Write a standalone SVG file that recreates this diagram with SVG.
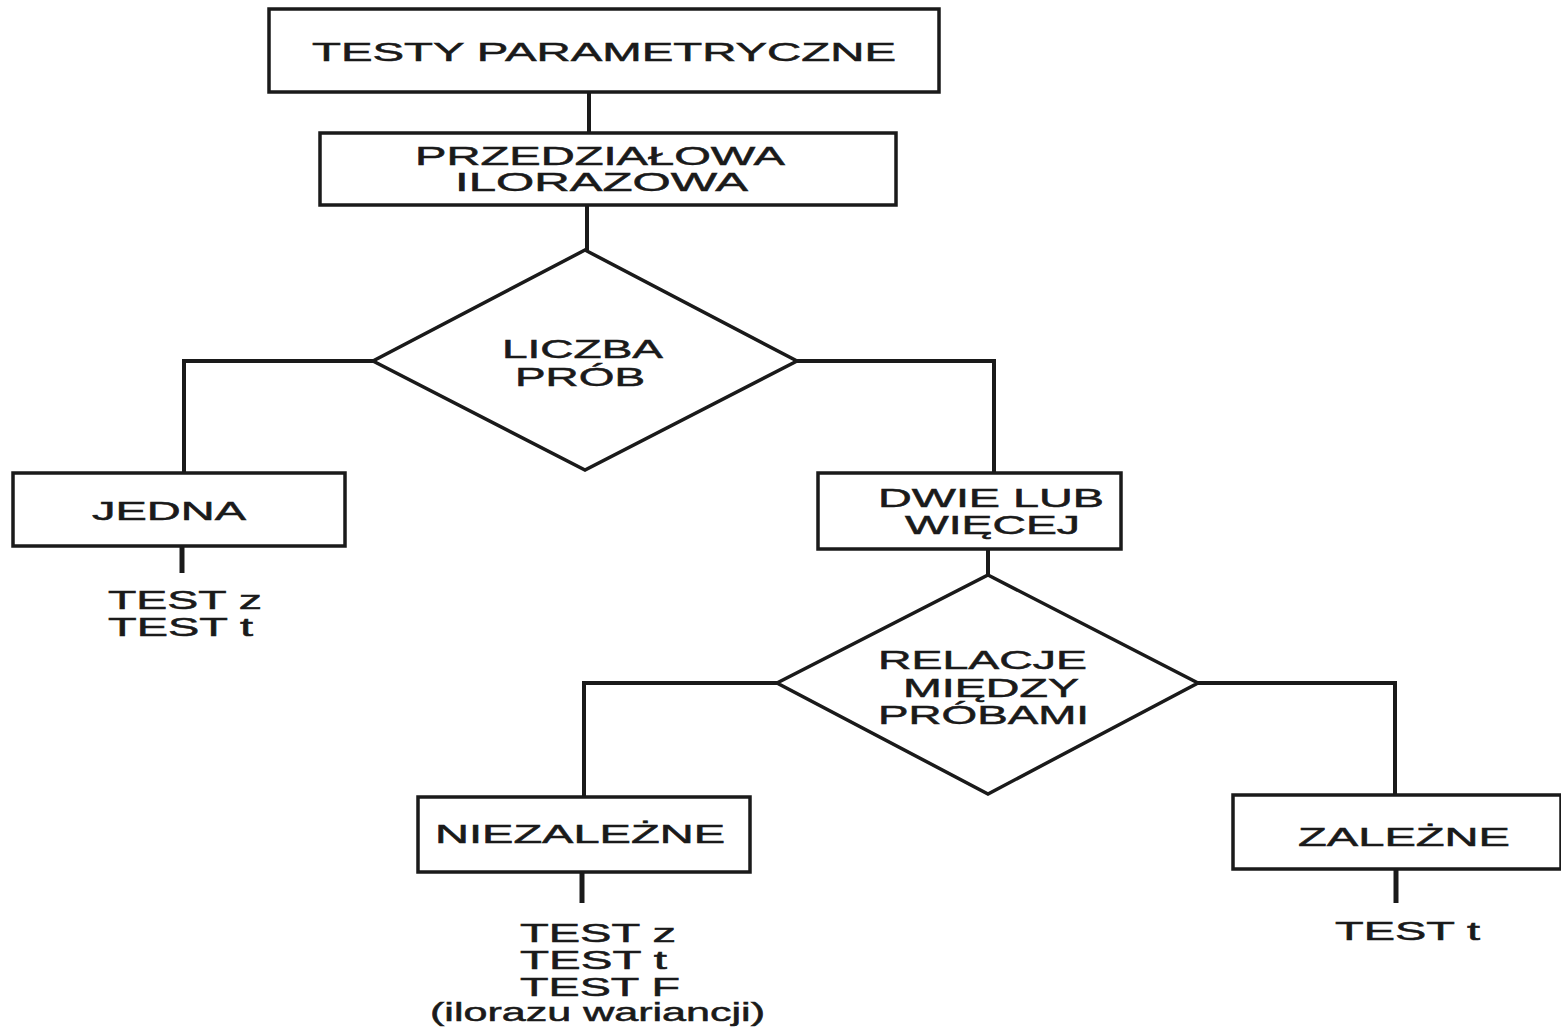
<svg xmlns="http://www.w3.org/2000/svg" width="1561" height="1031" viewBox="0 0 1561 1031">
<style>
.box{fill:#fff;stroke:#1a1a1a;stroke-width:3.5}
.ln{fill:none;stroke:#1a1a1a;stroke-width:4}
.stub{fill:none;stroke:#1a1a1a;stroke-width:5}
text{font-family:"Liberation Sans",Arial,sans-serif;font-size:25px;fill:#1a1a1a;stroke:#1a1a1a;stroke-width:0.5}
</style>
<rect width="1561" height="1031" fill="#fff"/>
<g id="connectors">
<line class="ln" x1="589" y1="92" x2="589" y2="133"/>
<line class="ln" x1="587" y1="205" x2="587" y2="250"/>
<polyline class="ln" points="373,361 184,361 184,473"/>
<polyline class="ln" points="797,361 994,361 994,473"/>
<line class="stub" x1="182" y1="546" x2="182" y2="573"/>
<line class="ln" x1="988" y1="549" x2="988" y2="575"/>
<polyline class="ln" points="777,683 584,683 584,797"/>
<polyline class="ln" points="1198,683 1395,683 1395,795"/>
<line class="stub" x1="582" y1="872" x2="582" y2="903"/>
<line class="stub" x1="1396" y1="869" x2="1396" y2="903"/>
</g>
<g id="n-testy">
<rect class="box" x="269" y="9" width="670" height="83"/>
<text x="312" y="61" textLength="584" lengthAdjust="spacingAndGlyphs">TESTY PARAMETRYCZNE</text>
</g>
<g id="n-przedzialowa">
<rect class="box" x="320" y="133" width="576" height="72"/>
<text x="415" y="165" textLength="370" lengthAdjust="spacingAndGlyphs">PRZEDZIAŁOWA</text>
<text x="455" y="191" textLength="293" lengthAdjust="spacingAndGlyphs">ILORAZOWA</text>
</g>
<g id="n-liczba">
<polygon class="box" points="585,250 797,361 585,470 373,361"/>
<text x="502" y="358" textLength="161" lengthAdjust="spacingAndGlyphs">LICZBA</text>
<text x="515" y="386" textLength="130" lengthAdjust="spacingAndGlyphs">PRÓB</text>
</g>
<g id="n-jedna">
<rect class="box" x="13" y="473" width="332" height="73"/>
<text x="92" y="520" textLength="154" lengthAdjust="spacingAndGlyphs">JEDNA</text>
</g>
<g id="t-jedna">
<text x="108" y="609" textLength="154" lengthAdjust="spacingAndGlyphs">TEST z</text>
<text x="108" y="636" textLength="145" lengthAdjust="spacingAndGlyphs">TEST t</text>
</g>
<g id="n-dwie">
<rect class="box" x="818" y="473" width="303" height="76"/>
<text x="878" y="507" textLength="226" lengthAdjust="spacingAndGlyphs">DWIE LUB</text>
<text x="905" y="534" textLength="175" lengthAdjust="spacingAndGlyphs">WIĘCEJ</text>
</g>
<g id="n-relacje">
<polygon class="box" points="988,575 1198,683 988,794 777,683"/>
<text x="878" y="669" textLength="209" lengthAdjust="spacingAndGlyphs">RELACJE</text>
<text x="903" y="697" textLength="176" lengthAdjust="spacingAndGlyphs">MIĘDZY</text>
<text x="878" y="724" textLength="211" lengthAdjust="spacingAndGlyphs">PRÓBAMI</text>
</g>
<g id="n-niezalezne">
<rect class="box" x="418" y="797" width="332" height="75"/>
<text x="435" y="843" textLength="290" lengthAdjust="spacingAndGlyphs">NIEZALEŻNE</text>
</g>
<g id="t-niezalezne">
<text x="520" y="942" textLength="156" lengthAdjust="spacingAndGlyphs">TEST z</text>
<text x="520" y="969" textLength="147" lengthAdjust="spacingAndGlyphs">TEST t</text>
<text x="520" y="996" textLength="160" lengthAdjust="spacingAndGlyphs">TEST F</text>
<text x="430" y="1021" textLength="335" lengthAdjust="spacingAndGlyphs">(ilorazu wariancji)</text>
</g>
<g id="n-zalezne">
<rect class="box" x="1233" y="795" width="328" height="74"/>
<text x="1298" y="846" textLength="212" lengthAdjust="spacingAndGlyphs">ZALEŻNE</text>
</g>
<g id="t-zalezne">
<text x="1335" y="940" textLength="145" lengthAdjust="spacingAndGlyphs">TEST t</text>
</g>
</svg>
